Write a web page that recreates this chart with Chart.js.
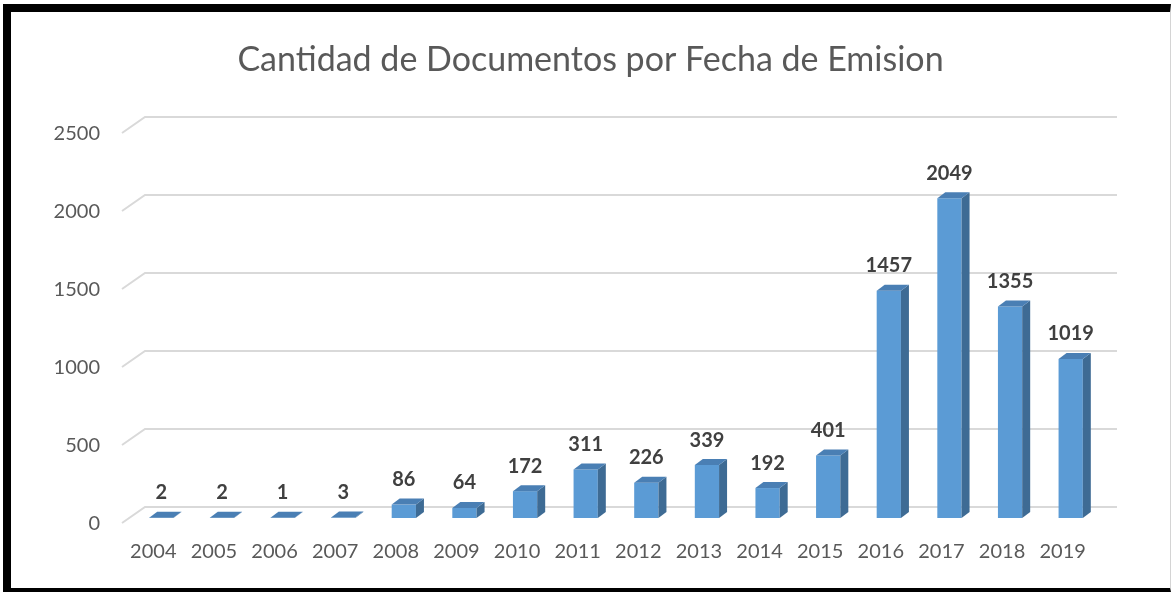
<!DOCTYPE html>
<html>
<head>
<meta charset="utf-8">
<script src="https://cdn.jsdelivr.net/npm/chart.js@4"></script>
<style>
    html, body { margin: 0; padding: 0; background: #fff; }
    body { width: 1171px; height: 592px; position: relative; overflow: hidden; }
    #frame {
        position: absolute;
        left: 3px;
        top: 4px;
        width: 1159px;
        height: 576px;
        border-left: 8px solid #000;
        border-top: 8px solid #000;
        border-bottom: 4px solid #000;
        border-right: 1px solid #d4d4d4;
        background: #fff;
    }
    #chart { display: block; }
</style>
</head>
<body>
<div id="frame"><canvas id="chart" width="1159" height="576"></canvas></div>
<script>
const years = ['2004', '2005', '2006', '2007', '2008', '2009', '2010', '2011',
    '2012', '2013', '2014', '2015', '2016', '2017', '2018', '2019'];
const documentCounts = [2, 2, 1, 3, 86, 64, 172, 311, 226, 339, 192, 401, 1457, 2049, 1355, 1019];
const yTicks = [0, 500, 1000, 1500, 2000, 2500];
const chartTitle = 'Cantidad de Documentos por Fecha de Emision';

const FONT = 'Lato, "Open Sans", sans-serif';

// title centred on the whole picture, not on the plot
const centredTitle = {
    id: 'centredTitle',
    afterDraw(chart) {
        const ctx = chart.ctx;
        ctx.save();
        ctx.fillStyle = '#595959';
        ctx.font = '34px ' + FONT;
        ctx.textAlign = 'center';
        ctx.textBaseline = 'middle';
        ctx.fillText(chartTitle, chart.width / 2, 48);
        ctx.restore();
    }
};

// gridlines drawn with the same slanted side wall as the excel 3d chart
const wallGrid = {
    id: 'wallGrid',
    beforeDatasetsDraw(chart) {
        const ctx = chart.ctx;
        const area = chart.chartArea;
        const y = chart.scales.y;
        ctx.save();
        ctx.strokeStyle = '#d9d9d9';
        ctx.lineWidth = 2;
        yTicks.forEach(v => {
            const py = y.getPixelForValue(v);
            ctx.beginPath();
            ctx.moveTo(area.left - 9, py + 5);
            ctx.lineTo(area.left + 14, py - 11);
            ctx.lineTo(area.right + 16, py - 11);
            ctx.stroke();
        });
        ctx.restore();
    }
};

// side and top faces of the columns, plus value labels
const columns3d = {
    id: 'columns3d',
    afterDatasetsDraw(chart) {
        const ctx = chart.ctx;
        const meta = chart.getDatasetMeta(0);
        const dx = 8, dy = 6;
        ctx.save();
        meta.data.forEach((bar, i) => {
            const left = bar.x - bar.width / 2;
            const right = bar.x + bar.width / 2;
            const top = bar.y;
            const bottom = bar.base;

            ctx.fillStyle = '#3e6b94';
            ctx.beginPath();
            ctx.moveTo(right, top);
            ctx.lineTo(right + dx, top - dy);
            ctx.lineTo(right + dx, bottom - dy);
            ctx.lineTo(right, bottom);
            ctx.closePath();
            ctx.fill();

            ctx.fillStyle = '#4a7fb4';
            ctx.beginPath();
            ctx.moveTo(left, top);
            ctx.lineTo(left + dx, top - dy);
            ctx.lineTo(right + dx, top - dy);
            ctx.lineTo(right, top);
            ctx.closePath();
            ctx.fill();

            ctx.fillStyle = '#404040';
            ctx.font = 'bold 20px ' + FONT;
            ctx.textAlign = 'center';
            ctx.textBaseline = 'middle';
            ctx.fillText(String(documentCounts[i]), bar.x, top - 25);
        });
        ctx.restore();
    }
};

new Chart(document.getElementById('chart'), {
    type: 'bar',
    data: {
        labels: years,
        datasets: [{
            data: documentCounts,
            backgroundColor: '#5b9bd5',
            borderWidth: 0,
            barPercentage: 0.4,
            categoryPercentage: 1
        }]
    },
    options: {
        responsive: false,
        animation: false,
        devicePixelRatio: 1,
        layout: { padding: { left: 0, right: 69, top: 116, bottom: 0 } },
        plugins: {
            legend: { display: false },
            tooltip: { enabled: false },
            title: { display: false }
        },
        scales: {
            x: {
                grid: { display: false, drawTicks: false },
                border: { display: false },
                ticks: {
                    color: '#595959',
                    font: { family: FONT, size: 20 },
                    padding: 22,
                    labelOffset: -8,
                    maxRotation: 0,
                    autoSkip: false
                },
                afterFit(scale) { scale.height = 70; }
            },
            y: {
                min: 0,
                max: 2500,
                grid: { display: false, drawTicks: false },
                border: { display: false },
                ticks: {
                    stepSize: 500,
                    color: '#595959',
                    font: { family: FONT, size: 20 },
                    padding: 31,
                    labelOffset: 6,
                    callback: value => String(value)
                },
                afterFit(scale) { scale.width = 120; }
            }
        }
    },
    plugins: [wallGrid, columns3d, centredTitle]
});
</script>
</body>
</html>
